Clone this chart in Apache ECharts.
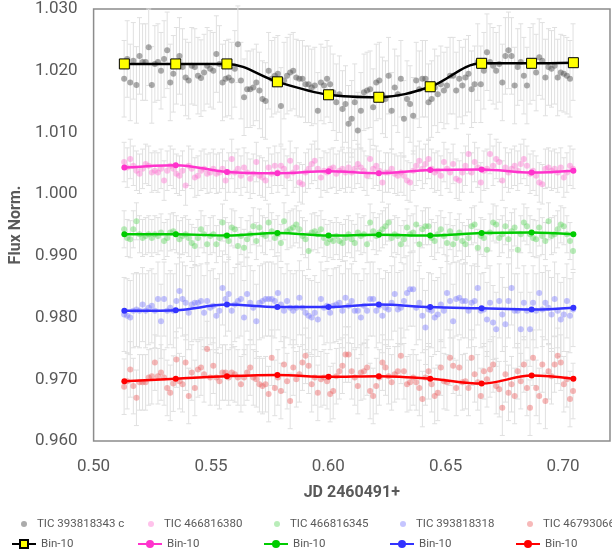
<!DOCTYPE html>
<html>
<head>
<meta charset="utf-8">
<script src="https://cdn.jsdelivr.net/npm/echarts@6/dist/echarts.min.js"></script>
<style>
  html, body { margin: 0; padding: 0; background: #ffffff; }
  #chart { width: 612px; height: 550px; }
</style>
</head>
<body>
<div id="chart"></div>
<script>
// Observation times (JD - 2460491)
const times = [
  0.51300, 0.51431, 0.51562, 0.51693, 0.51824, 0.51955, 0.52086, 0.52217, 0.52348, 0.52479,
  0.52610, 0.52741, 0.52872, 0.53003, 0.53134, 0.53265, 0.53396, 0.53527, 0.53658, 0.53789,
  0.53920, 0.54051, 0.54182, 0.54313, 0.54444, 0.54575, 0.54706, 0.54837, 0.54968, 0.55099,
  0.55230, 0.55361, 0.55492, 0.55623, 0.55754, 0.55885, 0.56016, 0.56147, 0.56278, 0.56409,
  0.56540, 0.56671, 0.56802, 0.56933, 0.57064, 0.57195, 0.57326, 0.57457, 0.57588, 0.57719,
  0.57850, 0.57981, 0.58112, 0.58243, 0.58374, 0.58505, 0.58636, 0.58767, 0.58898, 0.59029,
  0.59160, 0.59291, 0.59422, 0.59553, 0.59684, 0.59815, 0.59946, 0.60077, 0.60208, 0.60339,
  0.60470, 0.60601, 0.60732, 0.60863, 0.60994, 0.61125, 0.61256, 0.61387, 0.61518, 0.61649,
  0.61780, 0.61911, 0.62042, 0.62173, 0.62304, 0.62435, 0.62566, 0.62697, 0.62828, 0.62959,
  0.63090, 0.63221, 0.63352, 0.63483, 0.63614, 0.63745, 0.63876, 0.64007, 0.64138, 0.64269,
  0.64400, 0.64531, 0.64662, 0.64793, 0.64924, 0.65055, 0.65186, 0.65317, 0.65448, 0.65579,
  0.65710, 0.65841, 0.65972, 0.66103, 0.66234, 0.66365, 0.66496, 0.66627, 0.66758, 0.66889,
  0.67020, 0.67151, 0.67282, 0.67413, 0.67544, 0.67675, 0.67806, 0.67937, 0.68068, 0.68199,
  0.68330, 0.68461, 0.68592, 0.68723, 0.68854, 0.68985, 0.69116, 0.69247, 0.69378, 0.69509,
  0.69640, 0.69771, 0.69902, 0.70033, 0.70164, 0.70295, 0.70426
];

// Normalised flux of the target (TIC 393818343 c)
const flux393818343c = [
  1.0187, 1.0219, 1.0181, 1.0216, 1.0177, 1.0224, 1.0214, 1.0214, 1.0238, 1.0177,
  1.0211, 1.0214, 1.0200, 1.0219, 1.0233, 1.0181, 1.0195, 1.0208, 1.0224, 1.0206,
  1.0189, 1.0184, 1.0208, 1.0206, 1.0192, 1.0188, 1.0197, 1.0208, 1.0203, 1.0200,
  1.0227, 1.0211, 1.0181, 1.0187, 1.0189, 1.0184, 1.0203, 1.0243, 1.0184, 1.0157,
  1.0170, 1.0170, 1.0173, 1.0181, 1.0168, 1.0154, 1.0151, 1.0200, 1.0187, 1.0192,
  1.0195, 1.0143, 1.0184, 1.0192, 1.0197, 1.0200, 1.0189, 1.0187, 1.0187, 1.0178,
  1.0178, 1.0173, 1.0176, 1.0135, 1.0181, 1.0176, 1.0187, 1.0178, 1.0165, 1.0149,
  1.0162, 1.0138, 1.0146,
  1.0114, 1.0122, 1.0149, 1.0103, 1.0135, 1.0165, 1.0168, 1.0170, 1.0141, 1.0181,
  1.0184, 1.0160, 1.0154, 1.0192, 1.0135, 1.0173, 1.0162, 1.0187, 1.0122, 1.0154,
  1.0146, 1.0127, 1.0184, 1.0170, 1.0187, 1.0187, 1.0149, 1.0154, 1.0173, 1.0162,
  1.0178, 1.0168, 1.0176, 1.0192, 1.0192, 1.0168, 1.0187, 1.0176, 1.0189, 1.0195,
  1.0170, 1.0178, 1.0214, 1.0178, 1.0200, 1.0230, 1.0214, 1.0208, 1.0200, 1.0211,
  1.0181, 1.0224, 1.0233, 1.0224, 1.0176, 1.0206, 1.0214, 1.0192, 1.0176, 1.0208,
  1.0214, 1.0197, 1.0222, 1.0216, 1.0189, 1.0206, 1.0203, 1.0208, 1.0189, 1.0197,
  1.0195, 1.0192, 1.0187, 1.0214
];

// Comparison stars (offset for display)
const flux466816380 = [
  1.0052, 1.0043, 1.0057, 1.0046, 1.0038, 1.0033, 1.0041, 1.0049, 1.0046, 1.0035,
  1.0038, 1.0035, 1.0041, 1.0022, 1.0038, 1.0046, 1.0041, 1.0033, 1.0030, 1.0038,
  1.0014, 1.0046, 1.0041, 1.0027, 1.0030, 1.0038, 1.0041, 1.0033, 1.0035, 1.0041,
  1.0033, 1.0035, 1.0041, 1.0022, 1.0035, 1.0057, 1.0035, 1.0041, 1.0030, 1.0043,
  1.0035, 1.0025, 1.0033, 1.0052, 1.0030, 1.0027, 1.0022, 1.0043, 1.0033, 1.0046,
  1.0035, 1.0046, 1.0041, 1.0030, 1.0054, 1.0035, 1.0043, 1.0019, 1.0016, 1.0035,
  1.0041, 1.0049, 1.0054, 1.0041, 1.0027, 1.0038, 1.0035, 1.0041, 1.0043, 1.0033,
  1.0038, 1.0041, 1.0035,
  1.0043, 1.0035, 1.0041, 1.0049, 1.0043, 1.0038, 1.0030, 1.0057, 1.0041, 1.0046,
  1.0038, 1.0019, 1.0035, 1.0035, 1.0041, 1.0033, 1.0030, 1.0035, 1.0030, 1.0022,
  1.0019, 1.0038, 1.0046, 1.0054, 1.0041, 1.0049, 1.0057, 1.0041, 1.0035, 1.0038,
  1.0030, 1.0052, 1.0041, 1.0035, 1.0049, 1.0025, 1.0022, 1.0035, 1.0046, 1.0065,
  1.0035, 1.0052, 1.0043, 1.0019, 1.0038, 1.0041, 1.0065, 1.0046, 1.0057, 1.0052,
  1.0022, 1.0043, 1.0035, 1.0041, 1.0046, 1.0038, 1.0049, 1.0057, 1.0046, 1.0033,
  1.0038, 1.0030, 1.0019, 1.0016, 1.0041, 1.0043, 1.0038, 1.0041, 1.0035, 1.0043,
  1.0027, 1.0035, 1.0046, 1.0041
];

const flux466816345 = [
  0.9943, 0.9929, 0.9927, 0.9943, 0.9956, 0.9935, 0.9929, 0.9932, 0.9935, 0.9929,
  0.9935, 0.9932, 0.9938, 0.9924, 0.9929, 0.9938, 0.9940, 0.9935, 0.9927, 0.9932,
  0.9935, 0.9929, 0.9921, 0.9916, 0.9929, 0.9943, 0.9935, 0.9919, 0.9932, 0.9935,
  0.9919, 0.9929, 0.9954, 0.9932, 0.9924, 0.9946, 0.9943, 0.9916, 0.9932, 0.9913,
  0.9927, 0.9935, 0.9948, 0.9924, 0.9946, 0.9935, 0.9932, 0.9954, 0.9940, 0.9929,
  0.9935, 0.9921, 0.9956, 0.9940, 0.9943, 0.9946, 0.9951, 0.9943, 0.9932, 0.9927,
  0.9908, 0.9938, 0.9940, 0.9935, 0.9943, 0.9929, 0.9921, 0.9927, 0.9924, 0.9932,
  0.9924, 0.9921, 0.9929,
  0.9935, 0.9927, 0.9921, 0.9938, 0.9932, 0.9935, 0.9919, 0.9954, 0.9940, 0.9932,
  0.9938, 0.9943, 0.9948, 0.9954, 0.9929, 0.9935, 0.9932, 0.9919, 0.9927, 0.9946,
  0.9935, 0.9938, 0.9951, 0.9919, 0.9943, 0.9948, 0.9948, 0.9929, 0.9924, 0.9935,
  0.9943, 0.9932, 0.9921, 0.9940, 0.9919, 0.9929, 0.9938, 0.9924, 0.9919, 0.9929,
  0.9948, 0.9951, 0.9913, 0.9932, 0.9929, 0.9910, 0.9938, 0.9954, 0.9951, 0.9929,
  0.9935, 0.9948, 0.9927, 0.9940, 0.9946, 0.9910, 0.9935, 0.9954, 0.9948, 0.9935,
  0.9929, 0.9927, 0.9946, 0.9932, 0.9924, 0.9956, 0.9932, 0.9935, 0.9943, 0.9951,
  0.9948, 0.9935, 0.9924, 0.9908
];

const flux393818318 = [
  0.9805, 0.9803, 0.9800, 0.9811, 0.9813, 0.9811, 0.9821, 0.9811, 0.9816, 0.9819,
  0.9811, 0.9830, 0.9794, 0.9830, 0.9811, 0.9816, 0.9811, 0.9827, 0.9843, 0.9830,
  0.9824, 0.9808, 0.9821, 0.9824, 0.9824, 0.9827, 0.9808, 0.9827, 0.9816, 0.9819,
  0.9803, 0.9811, 0.9848, 0.9830, 0.9838, 0.9811, 0.9821, 0.9827, 0.9830, 0.9800,
  0.9838, 0.9824, 0.9816, 0.9794, 0.9824, 0.9827, 0.9830, 0.9830, 0.9830, 0.9827,
  0.9840, 0.9821, 0.9811, 0.9827, 0.9816, 0.9811, 0.9816, 0.9832, 0.9816, 0.9808,
  0.9803, 0.9800, 0.9808, 0.9797, 0.9830, 0.9816, 0.9819, 0.9808, 0.9819, 0.9821,
  0.9824, 0.9811, 0.9832,
  0.9819, 0.9827, 0.9811, 0.9811, 0.9800, 0.9819, 0.9811, 0.9830, 0.9830, 0.9811,
  0.9819, 0.9803, 0.9816, 0.9813, 0.9824, 0.9838, 0.9813, 0.9816, 0.9827, 0.9840,
  0.9846, 0.9846, 0.9816, 0.9824, 0.9803, 0.9784, 0.9813, 0.9811, 0.9800, 0.9805,
  0.9821, 0.9811, 0.9840, 0.9827, 0.9794, 0.9830, 0.9832, 0.9827, 0.9827, 0.9811,
  0.9824, 0.9827, 0.9848, 0.9811, 0.9813, 0.9797, 0.9824, 0.9792, 0.9781, 0.9827,
  0.9805, 0.9789, 0.9827, 0.9848, 0.9811, 0.9811, 0.9781, 0.9824, 0.9811, 0.9781,
  0.9824, 0.9811, 0.9840, 0.9813, 0.9824, 0.9816, 0.9805, 0.9830, 0.9811, 0.9797,
  0.9805, 0.9827, 0.9803, 0.9813
];

const flux467930660 = [
  0.9688, 0.9697, 0.9716, 0.9689, 0.9670, 0.9695, 0.9695, 0.9695, 0.9703, 0.9705,
  0.9727, 0.9705, 0.9711, 0.9703, 0.9686, 0.9678, 0.9693, 0.9732, 0.9697, 0.9692,
  0.9727, 0.9673, 0.9711, 0.9686, 0.9716, 0.9719, 0.9708, 0.9749, 0.9703, 0.9722,
  0.9703, 0.9697, 0.9711, 0.9711, 0.9703, 0.9711, 0.9708, 0.9703, 0.9692, 0.9703,
  0.9711, 0.9719, 0.9703, 0.9700, 0.9692, 0.9689, 0.9692, 0.9676, 0.9735, 0.9686,
  0.9703, 0.9681, 0.9724, 0.9697, 0.9665, 0.9719, 0.9700, 0.9708, 0.9727, 0.9738,
  0.9722, 0.9692, 0.9703, 0.9678, 0.9700, 0.9703, 0.9697, 0.9676, 0.9681, 0.9705,
  0.9713, 0.9722, 0.9740,
  0.9740, 0.9713, 0.9703, 0.9689, 0.9711, 0.9713, 0.9719, 0.9681, 0.9673, 0.9689,
  0.9703, 0.9727, 0.9719, 0.9705, 0.9695, 0.9708, 0.9713, 0.9738, 0.9713, 0.9692,
  0.9695, 0.9703, 0.9695, 0.9686, 0.9668, 0.9703, 0.9713, 0.9692, 0.9673, 0.9678,
  0.9719, 0.9697, 0.9695, 0.9735, 0.9722, 0.9686, 0.9719, 0.9695, 0.9697, 0.9686,
  0.9735, 0.9708, 0.9695, 0.9673, 0.9713, 0.9700, 0.9716, 0.9724, 0.9689, 0.9684,
  0.9654, 0.9708, 0.9678, 0.9692, 0.9673, 0.9713, 0.9697, 0.9724, 0.9686, 0.9654,
  0.9735, 0.9686, 0.9673, 0.9724, 0.9665, 0.9713, 0.9705, 0.9724, 0.9738, 0.9727,
  0.9692, 0.9700, 0.9668, 0.9681
];

// Photometric uncertainty (1 sigma) of each light curve
const errors = [0.0062, 0.0032, 0.0030, 0.0060, 0.0045];

// Ten-bin averages
const binTimes = [0.5131, 0.5350, 0.5568, 0.5783, 0.6001, 0.6215, 0.6434, 0.6653, 0.6866, 0.7044];
const bin393818343c = [1.0211, 1.0211, 1.0211, 1.0182, 1.0161, 1.0157, 1.0174, 1.0212, 1.0212, 1.0213];
const bin466816380  = [1.0043, 1.0047, 1.0036, 1.0034, 1.0037, 1.0034, 1.0039, 1.0040, 1.0035, 1.0038];
const bin466816345  = [0.9935, 0.9935, 0.9933, 0.9937, 0.9933, 0.9934, 0.9933, 0.9937, 0.9938, 0.9935];
const bin393818318  = [0.9811, 0.9812, 0.9821, 0.9817, 0.9817, 0.9821, 0.9817, 0.9815, 0.9813, 0.9816];
const bin467930660  = [0.9697, 0.9701, 0.9705, 0.9707, 0.9704, 0.9705, 0.9701, 0.9693, 0.9706, 0.9701];

const starNames = ['TIC 393818343 c', 'TIC 466816380', 'TIC 466816345', 'TIC 393818318', 'TIC 467930660'];
const binLabel = 'Bin-10';

// Axis ticks
const xMin = 0.50, xMax = 0.72, xStep = 0.05;
const yMin = 0.960, yMax = 1.030, yStep = 0.010;

const fluxes = [flux393818343c, flux466816380, flux466816345, flux393818318, flux467930660];
const bins = [bin393818343c, bin466816380, bin466816345, bin393818318, bin467930660];

const dotColors = ['rgba(80,80,80,0.6)', 'rgba(255,102,204,0.5)', 'rgba(80,210,80,0.5)', 'rgba(110,110,255,0.5)', 'rgba(235,80,80,0.5)'];
const lineColors = ['#000000', '#ff33cc', '#00cc00', '#3333ff', '#ff0000'];
const textColor = '#595959';
const font = 'Roboto, "Liberation Sans", sans-serif';

const pairs = (xs, ys) => ys.map((v, i) => [xs[i], v]);
const binSeriesName = i => binLabel + ' \u00b7 ' + starNames[i];

const series = [];

// error bars, drawn underneath every marker
fluxes.forEach((ys, k) => {
  const err = errors[k];
  series.push({
    type: 'custom',
    name: 'err-' + starNames[k],
    silent: true,
    z: 1,
    encode: { x: 0, y: 1 },
    data: pairs(times, ys),
    renderItem: (params, api) => {
      const x = api.value(0), y = api.value(1);
      const top = api.coord([x, y + err]);
      const bot = api.coord([x, y - err]);
      const cap = 2.5;
      const style = { stroke: '#e0e0e0', lineWidth: 1 };
      return {
        type: 'group',
        children: [
          { type: 'line', shape: { x1: top[0], y1: top[1], x2: bot[0], y2: bot[1] }, style },
          { type: 'line', shape: { x1: top[0] - cap, y1: top[1], x2: top[0] + cap, y2: top[1] }, style },
          { type: 'line', shape: { x1: bot[0] - cap, y1: bot[1], x2: bot[0] + cap, y2: bot[1] }, style }
        ]
      };
    }
  });
});

// individual measurements
fluxes.forEach((ys, k) => {
  series.push({
    type: 'scatter',
    name: starNames[k],
    z: 2,
    symbol: 'circle',
    symbolSize: 6,
    itemStyle: { color: dotColors[k] },
    data: pairs(times, ys)
  });
});

// binned curves
bins.forEach((ys, k) => {
  const isTarget = k === 0;
  series.push({
    type: 'line',
    name: binSeriesName(k),
    z: 3,
    smooth: 0.35,
    symbol: isTarget ? 'rect' : 'circle',
    symbolSize: isTarget ? 10 : 6,
    showAllSymbol: true,
    lineStyle: { color: lineColors[k], width: 2.5 },
    itemStyle: isTarget
      ? { color: '#ffff00', borderColor: '#000000', borderWidth: 1 }
      : { color: lineColors[k], borderWidth: 0 },
    data: pairs(binTimes, ys)
  });
});

// legend: one component per entry, two rows
const legendCols = [16, 143, 269, 395, 522];
const legendColsBin = [6, 132, 258, 384, 510];
const legends = [];
starNames.forEach((n, k) => {
  legends.push({
    data: [n], left: legendCols[k], top: 513, icon: 'circle',
    itemWidth: 6, itemHeight: 6, selectedMode: false,
    textStyle: { color: textColor, fontSize: 11.5, fontFamily: font, padding: [0, 0, 0, 5] }
  });
  legends.push({
    data: [binSeriesName(k)], left: legendColsBin[k], top: 533,
    itemWidth: 24, itemHeight: 10, selectedMode: false,
    formatter: () => binLabel,
    textStyle: { color: textColor, fontSize: 11.5, fontFamily: font }
  });
});

const option = {
  animation: false,
  backgroundColor: '#ffffff',
  textStyle: { fontFamily: font },
  grid: {
    left: 90, right: 2, top: 9, bottom: 109,
    show: true, borderColor: '#8c8c8c', borderWidth: 1.5, backgroundColor: '#ffffff'
  },
  legend: legends,
  xAxis: {
    type: 'value', min: xMin, max: xMax, interval: xStep,
    name: 'JD 2460491+', nameLocation: 'middle', nameGap: 44,
    nameTextStyle: { color: textColor, fontSize: 16, fontWeight: 'bold', fontFamily: font },
    axisLine: { show: false }, axisTick: { show: false }, splitLine: { show: false },
    axisLabel: {
      color: textColor, fontSize: 17, fontFamily: font, margin: 17,
      showMaxLabel: false, formatter: v => v.toFixed(2)
    }
  },
  yAxis: {
    type: 'value', min: yMin, max: yMax, interval: yStep,
    name: 'Flux Norm.', nameLocation: 'middle', nameGap: 68, nameRotate: 90,
    nameTextStyle: { color: textColor, fontSize: 16, fontWeight: 'bold', fontFamily: font },
    axisLine: { show: false }, axisTick: { show: false }, splitLine: { show: false },
    axisLabel: {
      color: textColor, fontSize: 17, fontFamily: font, margin: 16,
      formatter: v => v.toFixed(3)
    }
  },
  series
};

const chart = echarts.init(document.getElementById('chart'), null, { renderer: 'canvas' });
chart.setOption(option);
</script>
</body>
</html>
